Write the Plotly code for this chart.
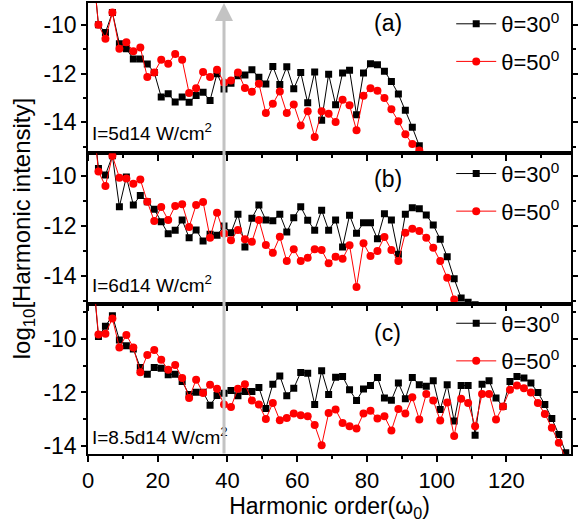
import plotly.graph_objects as go

FONT = "Liberation Sans, Arial, sans-serif"

# Harmonic orders (odd harmonics), panel (a) I=5d14
h_a = list(range(1, 97, 2))
a30 = [-7.0, -9.99, -10.3, -9.48, -10.77, -10.97, -11.4, -11.4, -11.6, -11.95,
       -12.96, -12.83, -13.17, -12.96, -13.18, -12.9, -12.77, -13.1, -12.0, -12.63,
       -12.39, -12.09, -12.05, -11.84, -12.15, -12.43, -11.7, -12.45, -11.72, -12.62,
       -11.95, -13.2, -11.93, -13.92, -12.02, -13.28, -11.97, -11.86, -13.69, -11.97,
       -11.59, -11.63, -11.9, -12.32, -12.84, -13.51, -14.21, -14.97]
a50 = [-7.0, -9.99, -10.56, -9.48, -10.97, -10.71, -11.08, -10.92, -12.14, -11.95,
       -11.43, -11.59, -11.19, -11.43, -12.8, -12.6, -11.93, -12.14, -11.84, -12.36,
       -12.28, -11.95, -12.59, -12.74, -12.41, -13.62, -13.24, -12.73, -13.62, -13.27,
       -14.13, -13.55, -14.61, -13.55, -13.65, -13.99, -13.07, -13.3, -14.33, -12.91,
       -12.6, -12.7, -13.0, -13.46, -13.96, -14.49, -14.9, -15.16]

# panel (b) I=6d14
h_b30 = list(range(1, 115, 2))
b30 = [-7.0, -9.71, -9.96, -9.2, -11.23, -10.04, -11.16, -10.78, -11.03, -11.33,
       -11.83, -12.31, -12.17, -11.76, -12.47, -12.16, -12.6, -12.33, -12.37, -12.0,
       -12.27, -11.53, -12.84, -11.69, -11.16, -11.76, -11.79, -11.53, -12.24, -11.67,
       -11.23, -11.77, -12.17, -11.37, -12.17, -11.76, -12.84, -11.57, -12.29, -11.87,
       -11.87, -12.51, -11.51, -11.76, -13.13, -11.53, -11.27, -11.31, -11.56, -11.96,
       -12.53, -13.23, -14.11, -14.87, -15.04, -15.14, -15.6]
h_b50 = list(range(1, 109, 2))
b50 = [-7.0, -9.83, -10.4, -9.2, -10.07, -10.1, -10.31, -10.14, -11.03, -11.8,
       -11.24, -11.76, -11.2, -11.13, -12.04, -11.16, -11.04, -12.47, -11.47, -12.3,
       -12.57, -12.16, -12.53, -12.63, -11.76, -12.76, -13.07, -12.43, -13.4, -12.93,
       -13.4, -13.27, -12.93, -12.96, -13.49, -13.23, -13.31, -12.77, -14.43, -12.69,
       -13.2, -13.0, -12.44, -12.96, -13.4, -12.27, -12.11, -12.2, -12.47, -12.87,
       -13.4, -14.07, -14.93, -15.7]

# panel (c) I=8.5d14
h_c = list(range(1, 139, 2))
c30 = [-7.0, -9.91, -9.52, -9.13, -10.04, -10.25, -10.37, -11.07, -11.32, -11.07,
       -11.09, -11.34, -11.32, -11.59, -12.08, -11.99, -11.99, -12.48, -12.11, -12.03,
       -11.93, -12.12, -11.96, -11.96, -11.81, -12.6, -11.69, -11.38, -12.12, -11.84,
       -11.25, -11.28, -12.45, -11.19, -12.08, -11.43, -11.4, -11.9, -12.3, -11.87,
       -11.74, -11.44, -12.21, -12.29, -11.65, -12.23, -11.44, -11.71, -11.77, -11.56,
       -12.64, -11.71, -13.07, -11.74, -11.74, -13.6, -11.69, -11.56, -12.21, -12.52,
       -11.59, -11.4, -11.46, -11.65, -12.0, -12.45, -12.97, -13.57, -14.25]
c50 = [-7.0, -9.83, -9.8, -9.23, -10.32, -9.85, -10.32, -11.24, -10.6, -10.41,
       -10.78, -11.15, -10.97, -11.46, -12.21, -11.52, -12.02, -11.71, -11.86, -12.45,
       -12.54, -11.86, -11.69, -12.3, -12.45, -12.99, -12.39, -13.04, -12.95, -12.79,
       -12.85, -12.89, -13.22, -13.97, -12.77, -12.64, -13.14, -13.26, -13.35, -12.79,
       -12.68, -12.97, -12.89, -13.42, -12.62, -12.79, -12.18, -13.01, -12.06, -12.3,
       -13.05, -12.37, -13.63, -12.23, -12.39, -13.26, -12.06, -12.06, -13.01, -12.52,
       -11.9, -11.74, -11.84, -12.0, -12.39, -12.8, -13.32, -13.88, -14.45]

x_ticks = [0, 20, 40, 60, 80, 100, 120]
y_ticks = [-10, -12, -14]
y_ticktext = ["-10", "-12", "-14"]
panel_labels = ["(a)", "(b)", "(c)"]
intensity_labels = ["I=5d14 W/cm<sup>2</sup>", "I=6d14 W/cm<sup>2</sup>", "I=8.5d14 W/cm<sup>2</sup>"]
legend_names = ["θ=30<sup>0</sup>", "θ=50<sup>0</sup>"]
arrow_order = 39

panels = [
    (h_a, a30, h_a, a50, [-15.28, -9.09]),
    (h_b30, b30, h_b50, b50, [-15.1, -9.1]),
    (h_c, c30, h_c, c50, [-14.3, -8.68]),
]

fig = go.Figure()
domains = [[2/3, 1.0], [1/3, 2/3], [0.0, 1/3]]
legend_ids = ["legend", "legend2", "legend3"]

for i, (hx30, y30, hx50, y50, yr) in enumerate(panels):
    xa = "x" if i == 0 else f"x{i+1}"
    ya = "y" if i == 0 else f"y{i+1}"
    fig.add_trace(go.Scatter(x=hx30, y=y30, mode="lines+markers", name=legend_names[0],
                             xaxis=xa, yaxis=ya, legend=legend_ids[i], legendgroup=f"g30_{i}",
                             line=dict(color="black", width=1),
                             marker=dict(symbol="square", size=7, color="black")))
    fig.add_trace(go.Scatter(x=hx50, y=y50, mode="lines+markers", name=legend_names[1],
                             xaxis=xa, yaxis=ya, legend=legend_ids[i], legendgroup=f"g50_{i}",
                             line=dict(color="#ff0000", width=1),
                             marker=dict(symbol="circle", size=8, color="#ff0000")))

axis_common = dict(showline=True, linecolor="black", linewidth=1.5, showgrid=False,
                   zeroline=False, ticks="outside", tickcolor="black",
                   tickfont=dict(family=FONT, size=22, color="black"))

layout = dict(
    width=586, height=527,
    margin=dict(l=88, r=15, t=1, b=73),
    paper_bgcolor="white", plot_bgcolor="white",
    showlegend=True,
    font=dict(family=FONT, color="black"),
)

leg_y = [1.0, 0.668, 0.336]
for i in range(3):
    xkey = "xaxis" if i == 0 else f"xaxis{i+1}"
    ykey = "yaxis" if i == 0 else f"yaxis{i+1}"
    ya = "y" if i == 0 else f"y{i+1}"
    xa = "x" if i == 0 else f"x{i+1}"
    layout[xkey] = dict(axis_common, range=[0, 138.5], tickvals=x_ticks,
                        ticklen=6, tickwidth=1.5, mirror=True, anchor=ya,
                        showticklabels=(i == 2),
                        minor=dict(dtick=10, tick0=0, ticklen=3, ticks="outside", tickcolor="black"))
    layout[ykey] = dict(axis_common, range=panels[i][4], tickvals=y_ticks, ticktext=y_ticktext,
                        domain=domains[i], tickfont=dict(family=FONT, size=23, color="black"),
                        ticklen=5, tickwidth=1.5, mirror="allticks", anchor=xa,
                        minor=dict(dtick=1, tick0=-15, ticklen=3, ticks="outside", tickcolor="black"))
    layout[legend_ids[i]] = dict(x=0.752, xanchor="left", y=leg_y[i], yanchor="top",
                                 bgcolor="rgba(0,0,0,0)", borderwidth=0,
                                 font=dict(family=FONT, size=22, color="black"),
                                 tracegroupgap=6, itemwidth=40)

layout["xaxis3"]["title"] = dict(text="Harmonic order(ω<sub>0</sub>)",
                                 font=dict(family=FONT, size=23, color="black"), standoff=6)

fig.update_layout(**layout)

lab_y = [0.955, 0.61, 0.268]
int_y = [0.713, 0.376, 0.04]
for i in range(3):
    fig.add_annotation(x=0.621, y=lab_y[i], xref="paper", yref="paper", text=panel_labels[i],
                       xanchor="center", yanchor="middle",
                       showarrow=False, font=dict(family=FONT, size=23, color="black"))
    fig.add_annotation(x=0.004, y=int_y[i], xref="paper", yref="paper", xanchor="left",
                       yanchor="middle",
                       text=intensity_labels[i], showarrow=False,
                       font=dict(family=FONT, size=19, color="black"))

fig.add_annotation(x=-0.133, y=0.5, xref="paper", yref="paper", textangle=-90,
                   xanchor="center", yanchor="middle",
                   text="log<sub>10</sub>[Harmonic intensity]", showarrow=False,
                   font=dict(family=FONT, size=24, color="black"))

# gray arrow at harmonic order 39
fig.add_annotation(x=arrow_order, y=1.0, xref="x", yref="paper",
                   ax=0, ay=452, axref="pixel", ayref="pixel",
                   showarrow=True, arrowhead=2, arrowsize=1.2, arrowwidth=3,
                   arrowcolor="#c3c3c3", standoff=0, text="")

fig.write_html("out.html", config={"displayModeBar": False},
               post_script="document.body.style.margin='0';document.body.style.padding='0';document.body.style.overflow='hidden';")
